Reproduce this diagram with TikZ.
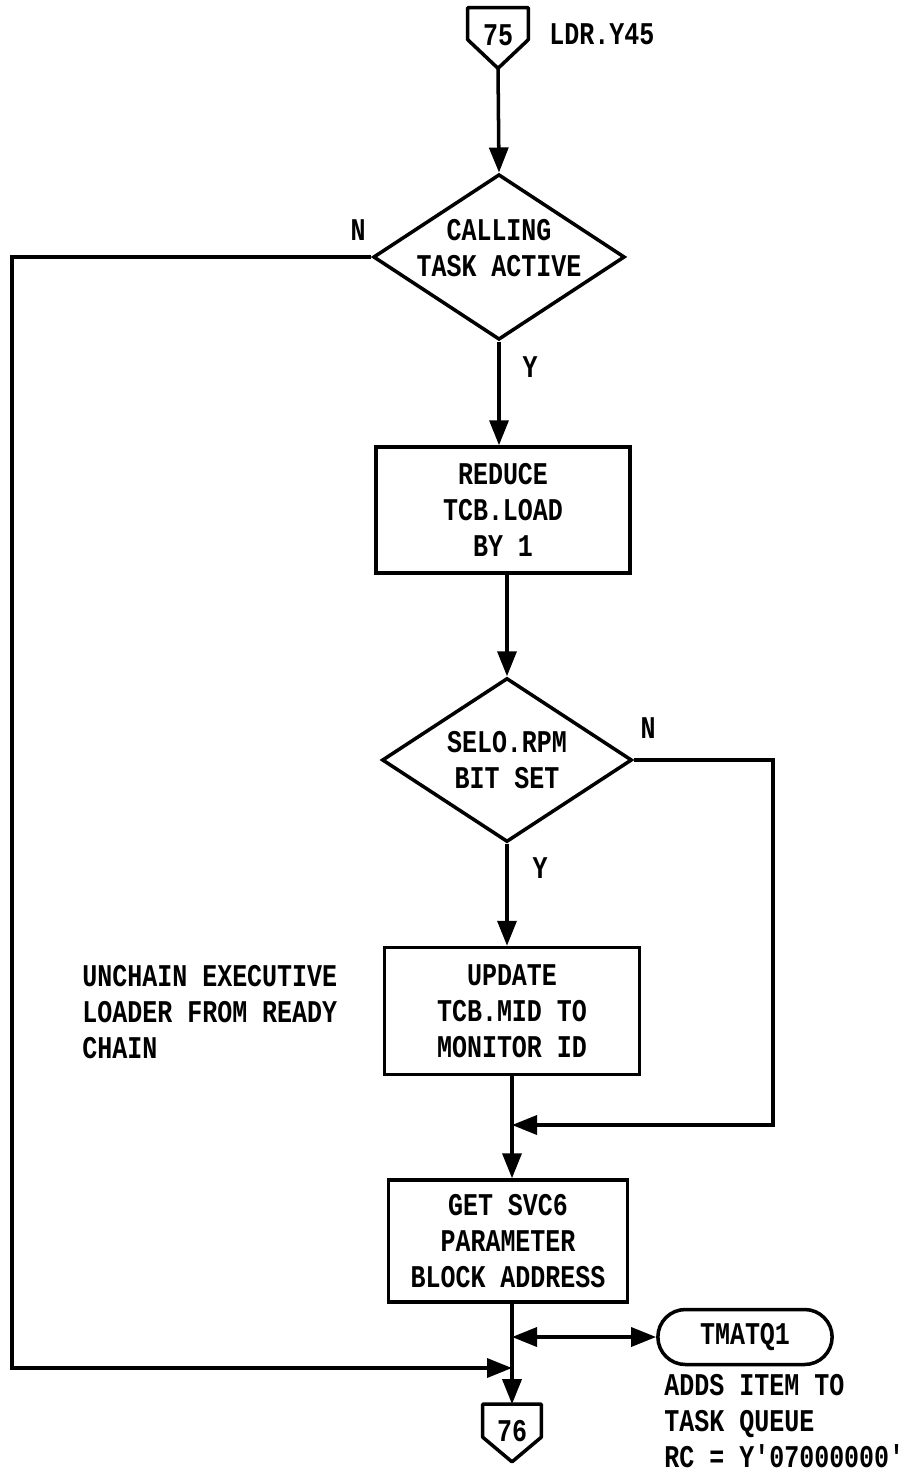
\documentclass[tikz,border=0pt]{standalone}
\usepackage{fontspec}
\usepackage{tikz}
\usetikzlibrary{positioning}
\usetikzlibrary{shapes.geometric}
\usetikzlibrary{shapes.misc}
\usetikzlibrary{arrows.meta}
\newfontfamily\chartfont{Liberation Mono}[FakeStretch=0.79]

\begin{document}
\begin{tikzpicture}[x=0.02cm,y=-0.02cm]

            \tikzstyle{chartText} = [font=\chartfont\bfseries\fontsize{18}{20.4}\selectfont];
            \tikzstyle{boxNode} = [chartText, draw, line width=2pt, align=center, inner sep=0pt];
            \tikzstyle{decisionNode} = [chartText, draw, diamond, aspect=1.52, line width=2pt, align=center, inner sep=0pt, minimum width=5cm, minimum height=3.28cm];
            \tikzstyle{terminalNode} = [chartText, draw, rounded rectangle, line width=2pt, minimum width=3.72cm, minimum height=1.1cm];
            \tikzstyle{pageNode} = [chartText, inner sep=0pt];
            \tikzstyle{labelNode} = [chartText, inner sep=0pt];

            \tikzstyle{normalEdge} = [line width=2pt];
            \tikzstyle{flowEdge} = [line width=2pt, -{Triangle[length=0.5cm,width=0.38cm]}];
            \tikzstyle{callEdge} = [line width=2pt, {Triangle[length=0.5cm,width=0.38cm]}-{Triangle[length=0.5cm,width=0.38cm]}];

            \useasboundingbox[fill=white] (0,0) rectangle (908,1476);

            % off-page connector in
            \node[pageNode, minimum width=1.2cm, minimum height=1.2cm, text depth=0.12cm] (inPage) at (498,38) {75};
            \draw[normalEdge, line join=round] (inPage.north west) -- (inPage.north east)
                -- ([yshift=-0.64cm]inPage.north east) -- (inPage.south)
                -- ([yshift=-0.64cm]inPage.north west) -- cycle;
            \node[labelNode, anchor=west] (inLabel) at (549,34) {LDR.Y45};

            \node[decisionNode, text depth=0.36cm, inner ysep=-0.18cm] (taskActive) at (499,257) {CALLING\\TASK ACTIVE};
            \node[boxNode, minimum width=5.08cm, minimum height=2.52cm] (reduceLoad) at (503,510) {REDUCE\\TCB.LOAD\\BY 1};
            \node[decisionNode] (rpmSet) at (507,760) {SELO.RPM\\BIT SET};
            \node[boxNode, minimum width=5.1cm, minimum height=2.54cm] (updateMid) at (512,1011) {UPDATE\\TCB.MID TO\\MONITOR ID};
            \node[boxNode, minimum width=4.78cm, minimum height=2.44cm] (getBlock) at (508,1241) {GET SVC6\\PARAMETER\\BLOCK ADDRESS};
            \node[terminalNode] (tmatq) at (745,1337) {TMATQ1};

            % off-page connector out
            \node[pageNode, minimum width=1.16cm, minimum height=1.14cm, text depth=0.1cm] (outPage) at (512,1433) {76};
            \draw[normalEdge, line join=round] (outPage.north west) -- (outPage.north east)
                -- ([yshift=-0.66cm]outPage.north east) -- (outPage.south)
                -- ([yshift=-0.66cm]outPage.north west) -- cycle;

            \node[labelNode] (nActive) at (358,230) {N};
            \node[labelNode] (yActive) at (530,367) {Y};
            \node[labelNode] (nRpm) at (648,728) {N};
            \node[labelNode] (yRpm) at (540,868) {Y};
            \node[labelNode, anchor=north west, align=left] (unchainNote) at (82,965) {UNCHAIN EXECUTIVE\\LOADER FROM READY\\CHAIN};
            \node[labelNode, anchor=north west, align=left] (queueNote) at (664,1374) {ADDS ITEM TO\\TASK QUEUE\\RC = Y'07000000'};

            \coordinate (rpmMerge) at (512,1125);
            \coordinate (rpmCorner) at (773,1125);
            \coordinate (callJoin) at (512,1337);
            \coordinate (activeJoin) at (512,1368);
            \coordinate (activeCorner) at (12,1368);

            \draw[flowEdge] (inPage.south) -- (taskActive.north);
            \draw[flowEdge] (taskActive.south) -- (taskActive.south |- reduceLoad.north);
            \draw[flowEdge] (rpmSet.north |- reduceLoad.south) -- (rpmSet.north);
            \draw[flowEdge] (rpmSet.south) -- (rpmSet.south |- updateMid.north);
            \draw[normalEdge] (updateMid.south) -- (rpmMerge);
            \draw[flowEdge] (rpmSet.east) -| (rpmCorner) -- (rpmMerge);
            \draw[flowEdge] (rpmMerge) -- (rpmMerge |- getBlock.north);
            \draw[normalEdge] (rpmMerge |- getBlock.south) -- (activeJoin);
            \draw[callEdge] (callJoin) -- (tmatq.west);
            \draw[flowEdge] (taskActive.west) -| (activeCorner) -- (activeJoin);
            \draw[flowEdge] (activeJoin) -- (outPage.north);
          \end{tikzpicture}
\end{document}
